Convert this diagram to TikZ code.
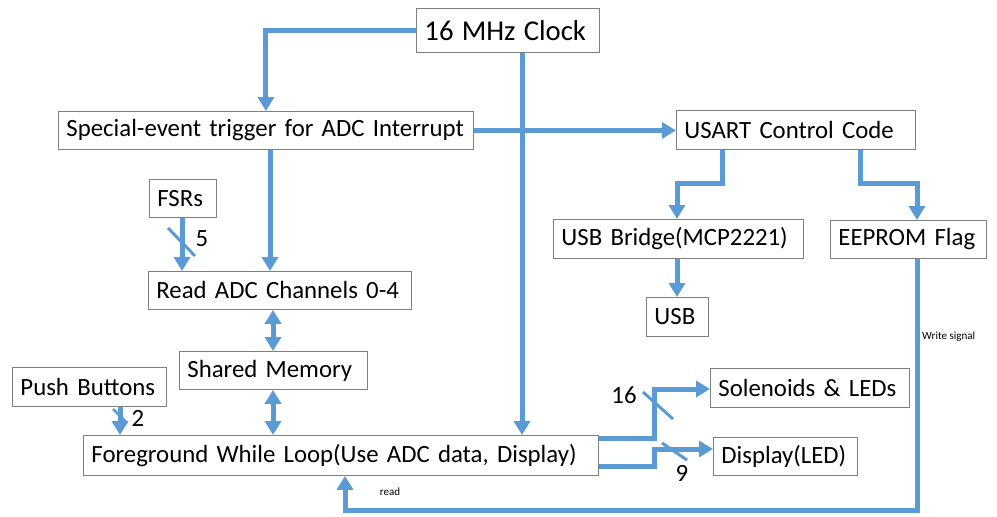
\documentclass[tikz,border=0pt]{standalone}
\usepackage{fontspec}
\setmainfont{Carlito}
\usetikzlibrary{arrows.meta}
\definecolor{flow}{RGB}{91,155,213}
\definecolor{frame}{RGB}{127,127,127}
\begin{document}
\begin{tikzpicture}[x=1pt,y=-1pt,
  box/.style={draw=frame, line width=0.9pt, fill=white, inner xsep=8pt, inner ysep=0pt,
    align=left, anchor=north west, font=\fontsize{24.8}{26}\selectfont},
  arr/.style={draw=flow, line width=5pt, -{Triangle[length=14pt,width=16pt]}},
  biarr/.style={draw=flow, line width=5pt, {Triangle[length=14pt,width=16pt]}-{Triangle[length=14pt,width=16pt]}},
  bus/.style={draw=flow, line width=3pt},
  count/.style={inner sep=0pt, font=\fontsize{24.8}{26}\selectfont},
  note/.style={inner sep=0pt, font=\fontsize{11}{12}\selectfont}]

% page
\fill[white] (0,0) rectangle (997,517);
\useasboundingbox (0,0) rectangle (997,517);

% blocks
\node[box, text width=167pt, minimum height=44pt] (clock) at (416,8) {\fontsize{28.7}{30}\selectfont 16 MHz Clock};
\node[box, text width=399pt, minimum height=38pt] (trig) at (58,111) {Special-event trigger for ADC Interrupt};
\node[box, text width=223pt, minimum height=39pt] (usart) at (676,110) {USART Control Code};
\node[box, text width=51pt, minimum height=38pt] (fsr) at (149,179) {FSRs};
\node[box, text width=234pt, minimum height=39pt] (bridge) at (553,219) {USB Bridge(MCP2221)};
\node[box, text width=140pt, minimum height=38pt] (eeprom) at (830,220) {EEPROM Flag};
\node[box, text width=247pt, minimum height=38pt] (adc) at (148,271) {Read ADC Channels 0-4};
\node[box, text width=46pt, minimum height=39pt] (usb) at (646,297) {USB};
\node[box, text width=172pt, minimum height=38pt] (mem) at (179,351) {Shared Memory};
\node[box, text width=138pt, minimum height=39pt] (push) at (12,367) {Push Buttons};
\node[box, text width=183pt, minimum height=39pt] (sol) at (710,368) {Solenoids \& LEDs};
\node[box, text width=499pt, minimum height=40pt] (fg) at (83,435) {Foreground While Loop(Use ADC data, Display)};
\node[box, text width=128pt, minimum height=38pt] (disp) at (713,437) {Display(LED)};

% routing points
\coordinate (clkx) at (522,0);
\coordinate (trigx) at (270,0);
\coordinate (fsrx) at (182,0);
\coordinate (memx) at (273,0);
\coordinate (pushx) at (120,0);
\coordinate (ua) at (722,183);
\coordinate (ub) at (677,183);
\coordinate (uc) at (860,183);
\coordinate (ud) at (917,183);
\coordinate (wr) at (917,510);
\coordinate (rd) at (345,510);
\coordinate (sa) at (654,438);
\coordinate (sb) at (654,389);
\coordinate (da) at (654,466);
\coordinate (db) at (654,449);

% clock and trigger
\draw[arr] (clock.west) -| (trig.north);
\draw[arr] (clock.south -| clkx) -- (fg.north -| clkx);
\draw[arr] (trig.east) -- (usart.west |- trig.east);
\draw[arr] (trig.south -| trigx) -- (adc.north -| trigx);

% inputs
\draw[arr] (fsr.south -| fsrx) -- (adc.north -| fsrx);
\draw[bus] (168,228) -- (195,256);
\node[count] (n5) at (202,239) {5};
\draw[arr] (push.south -| pushx) -- (fg.north -| pushx);
\draw[bus, line width=2.5pt] (113,409) -- (127,423);
\node[count] (n2) at (138,418) {2};

% shared memory
\draw[biarr] (adc.south -| memx) -- (mem.north -| memx);
\draw[biarr] (mem.south -| memx) -- (fg.north -| memx);

% USART branch
\draw[arr] (usart.south -| ua) -- (ua) -- (ub) -- (bridge.north -| ub);
\draw[arr] (usart.south -| uc) -- (uc) -- (ud) -- (eeprom.north -| ud);
\draw[arr] (bridge.south -| ub) -- (usb.north -| ub);

% write-back loop
\draw[arr] (eeprom.south -| wr) -- (wr) -- (rd) -- (fg.south -| rd);
\node[note, anchor=west] (wlabel) at (922,337) {Write signal};
\node[note] (rlabel) at (390,492) {read};

% outputs
\draw[arr] (fg.east |- sa) -- (sa) -- (sb) -- (sol.west |- sb);
\draw[bus] (643,392) -- (673,419);
\node[count] (n16) at (624,395) {16};
\draw[arr] (fg.east |- da) -- (da) -- (db) -- (disp.west |- db);
\draw[bus] (662,443) -- (687,460);
\node[count] (n9) at (682,473) {9};
\end{tikzpicture}
\end{document}
